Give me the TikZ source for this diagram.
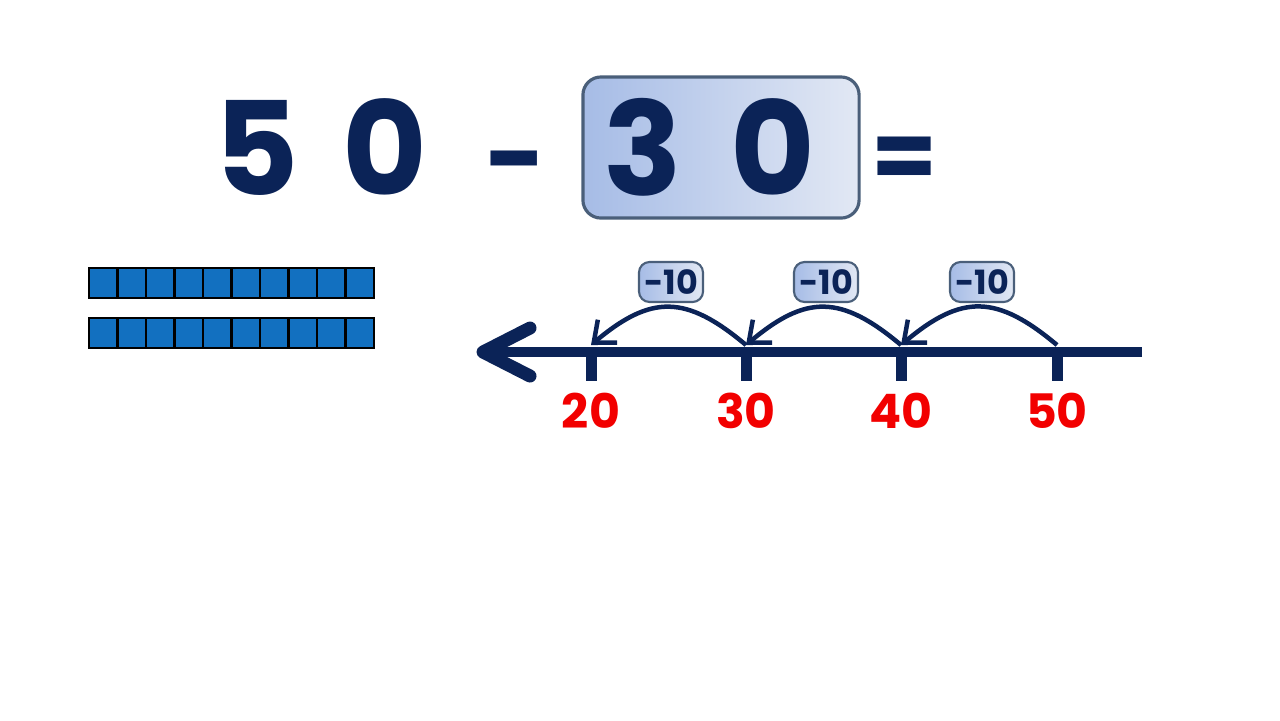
\documentclass[tikz,border=0pt]{standalone}
\usepackage{fontspec}
\setmainfont{Poppins}
\usetikzlibrary{arrows.meta}
\definecolor{navy}{HTML}{0B2357}
\definecolor{tenred}{HTML}{F20000}
\definecolor{tenblue}{HTML}{1270C0}
\definecolor{boxleft}{HTML}{A6BCE6}
\definecolor{boxright}{HTML}{E2E8F4}
\definecolor{boxedge}{HTML}{4A5F7A}
\tikzset{
  bigdigits/.style={text=navy,font=\fontsize{37}{37}\selectfont\bfseries},
  numlabel/.style={text=tenred,font=\fontsize{13.5}{13.5}\selectfont\bfseries},
  shaded/.style={draw=boxedge,left color=boxleft,right color=boxright},
  jumpbox/.style={shaded,line width=0.6pt,rounded corners=3pt,text=navy,
    font=\fontsize{9.5}{9.5}\selectfont\bfseries,minimum width=0.64cm,minimum height=0.4cm,inner sep=1pt},
  jump/.style={navy,line width=0.045cm,-{Straight Barb[length=0.18cm,width=0.3cm]}},
  unit/.style={draw=black,line width=0.025cm,fill=tenblue}
}
\begin{document}
\begin{tikzpicture}[x=0.01cm,y=-0.01cm]
\useasboundingbox (0,0) rectangle (1280,720);
% equation
\node[bigdigits] (fifty) at (321,147) {5\hspace{0.12em} 0};
\node[shaded,line width=0.9pt,rounded corners=0.18cm,minimum width=2.76cm,minimum height=1.41cm] (subbox) at (721,147.5) {};
\node[bigdigits] (thirty) at (709,147) {3\hspace{0.16em} 0};
\node[bigdigits,font=\fontsize{30}{30}\selectfont\bfseries] (minus) at (516,173) {-};
\node[bigdigits,font=\fontsize{27}{27}\selectfont\bfseries] (equals) at (905,163) {=};
% two tens
\foreach \r in {0,1}
  \foreach \i in {0,...,9}
    \draw[unit] (89+28.5*\i,268+50*\r) rectangle ++(28.5,30);
% number line
\draw[navy,line width=0.1cm] (490,352) -- (1142,352);
\draw[navy,line width=0.13cm,line cap=round,line join=round] (530,328) -- (483,352) -- (530,376);
\foreach \v/\x in {20/591,30/746,40/901,50/1057}{
  \coordinate (a\v) at (\x,345);
  \draw[navy,line width=0.11cm] (\x,347) -- (\x,381);
  \node[numlabel] (l\v) at (\x,411) {\v};
}
% jumps back
\draw[jump] (a30) to[out=140,in=40,looseness=1.3] (a20);
\draw[jump] (a40) to[out=140,in=40,looseness=1.3] (a30);
\draw[jump] (a50) to[out=140,in=40,looseness=1.3] (a40);
\node[jumpbox] (j1) at (671,282) {-10};
\node[jumpbox] (j2) at (826,282) {-10};
\node[jumpbox] (j3) at (982,282) {-10};
\end{tikzpicture}
\end{document}
